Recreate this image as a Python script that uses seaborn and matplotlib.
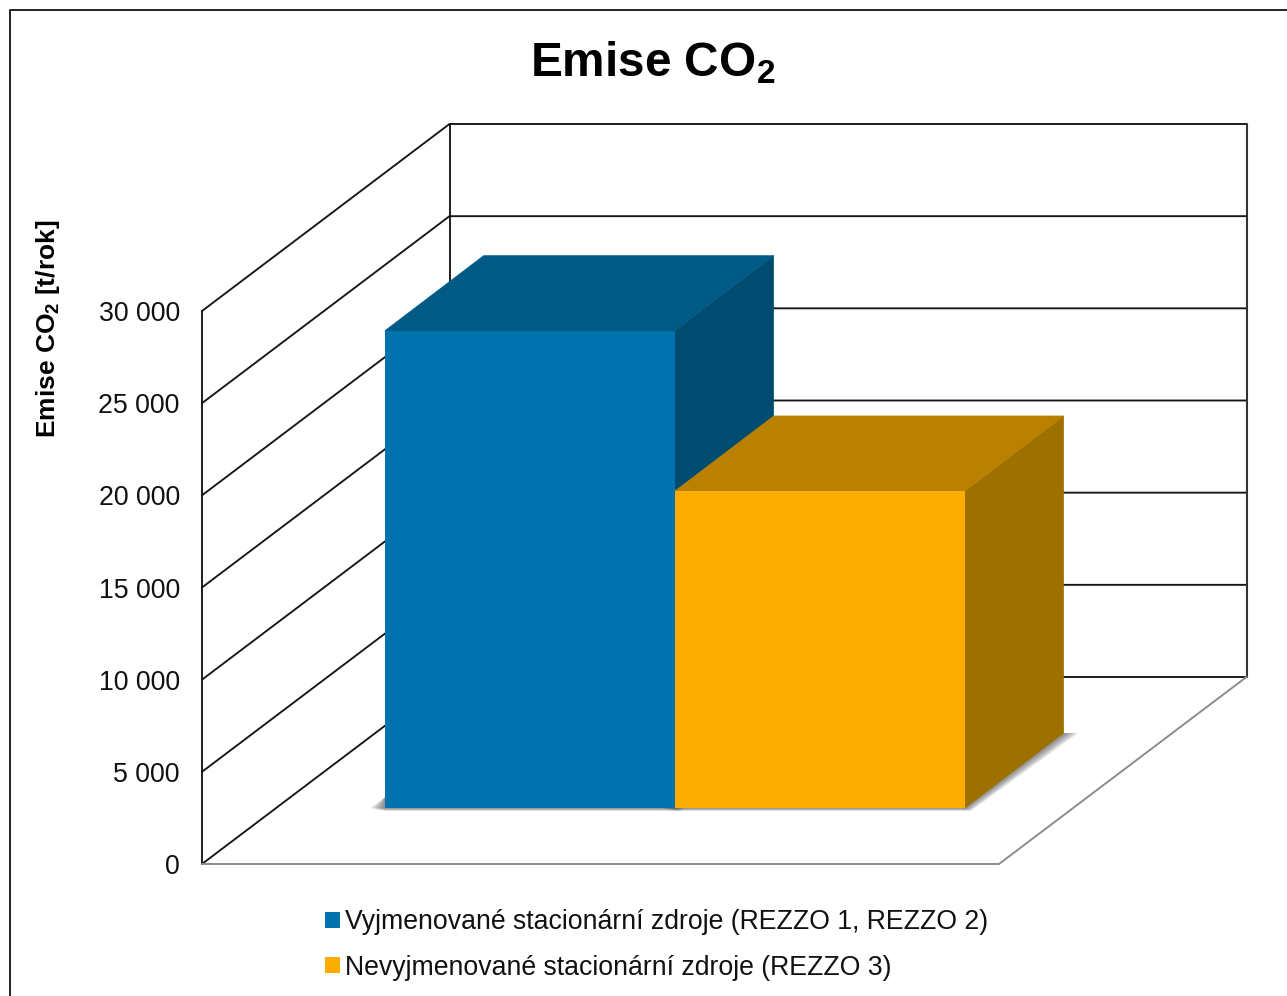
import matplotlib
matplotlib.use("Agg")
import matplotlib.pyplot as plt
from matplotlib.lines import Line2D
from matplotlib.patches import Polygon
import pandas as pd
import seaborn as sns

# Data
sources = ["Vyjmenované stacionární zdroje (REZZO 1, REZZO 2)",
           "Nevyjmenované stacionární zdroje (REZZO 3)"]
emissions = [25900, 17200]
tick_values = [0, 5000, 10000, 15000, 20000, 25000, 30000]
tick_labels = ["0", "5 000", "10 000", "15 000", "20 000", "25 000", "30 000"]

front_colors = ["#0072AE", "#FAAC00"]
top_colors = ["#005A86", "#BA8000"]
side_colors = ["#004C70", "#9E7000"]

W, H = 1287, 996
Y_MAX = 30000
PX_PER_VALUE = 553 / Y_MAX          # vertical scale shared by walls and bars

sns.set_theme(style="white", font="Liberation Sans")
plt.rcParams["font.family"] = ["Liberation Sans", "DejaVu Sans"]
plt.rcParams["mathtext.default"] = "regular"


def pixel_rect(left, top, right, bottom):
    """Axes rectangle from pixel edges measured from the top-left corner."""
    return [left / W, 1 - bottom / H, (right - left) / W, (bottom - top) / H]


fig = plt.figure(figsize=(W / 100, H / 100), dpi=100, facecolor="white")

# Outer chart frame: open on the right and at the bottom
fig.add_artist(Line2D([9.5 / W, 9.5 / W, 1], [0, 1 - 10.5 / H, 1 - 10.5 / H],
                      color="#111111", lw=1.3, transform=fig.transFigure))

# Walls and floor, drawn in the front plane's data coordinates
wall = fig.add_axes(pixel_rect(202, 311, 999, 864))
wall.set_xlim(0, 1)
wall.set_ylim(0, Y_MAX)
wall.patch.set_visible(False)
sns.despine(ax=wall, left=True, bottom=True)
wall_dx = 247.5 / 797
wall_dy = 187 / PX_PER_VALUE

GRID = "#151515"
FLOOR = "#8C8C8C"
for v in tick_values:
    wall.plot([0, wall_dx, 1 + wall_dx], [v, v + wall_dy, v + wall_dy],
              color=GRID, lw=1.35, clip_on=False, solid_joinstyle="miter", zorder=1)
top = tick_values[-1]
wall.plot([0, 0], [0, top], color=GRID, lw=1.35, clip_on=False, zorder=1)
wall.plot([wall_dx, wall_dx], [wall_dy, top + wall_dy], color=GRID, lw=1.35, clip_on=False, zorder=1)
wall.plot([1 + wall_dx, 1 + wall_dx], [wall_dy, top + wall_dy], color="#333333", lw=1.5, clip_on=False, zorder=1)
wall.plot([0, 1, 1 + wall_dx], [0, 0, wall_dy], color=FLOOR, lw=1.4, clip_on=False, zorder=2)

wall.set_xticks([])
wall.set_yticks(tick_values, tick_labels, fontsize=19.3, color="#111111")
wall.tick_params(axis="y", length=0, pad=16)
wall.set_ylabel(r"Emise CO$_{\mathdefault{2}}$ [t/rok]", fontsize=19,
                fontweight="bold", color="black")
wall.yaxis.set_label_coords(-140 / 797, (864 - 329) / 553)

# Front faces of the bars sit further back on the floor, in their own axes
bars = fig.add_axes(pixel_rect(385, 255, 965, 808))
bars.patch.set_visible(False)
frame = pd.DataFrame({"source": sources, "emission": emissions})
sns.barplot(data=frame, x="source", y="emission", hue="source", hue_order=sources,
            palette=dict(zip(sources, front_colors)), width=1, saturation=1,
            legend=True, ax=bars, zorder=5, linewidth=0)
handles, labels = bars.get_legend_handles_labels()
bars.get_legend().remove()
bars.set_xlim(-0.5, 1.5)
bars.set_ylim(0, Y_MAX)
bars.axis("off")

px_x = 1 / 290                      # one pixel in category units
px_y = 1 / PX_PER_VALUE             # one pixel in value units
depth_x = 98.7 * px_x
depth_y = 75 * px_y

bar_patches = [p for p in bars.patches if p.get_height() > 0]
bar_patches.sort(key=lambda p: p.get_x())

# Soft shadow on the floor under the bars, built from stacked translucent layers
for patch in bar_patches:
    x0, x1 = patch.get_x(), patch.get_x() + patch.get_width()
    for step in range(1, 11):
        t = step / 10
        outline = [(x0 - 15 * t * px_x, 0),
                   (x0, -3 * t * px_y),
                   (x1 + 6 * t * px_x, -3 * t * px_y),
                   (x1 + depth_x + 15 * t * px_x, depth_y),
                   (x0 + depth_x, depth_y),
                   (x0, 11 * px_y)]
        bars.add_patch(Polygon(outline, closed=True, facecolor="#505050", alpha=0.09,
                               edgecolor="none", clip_on=False, zorder=2))

# Top and side faces, offset from each front face by the bar depth; both tuck
# a pixel under the front face so no seam opens along the shared edge
for patch, value, top_c, side_c in zip(bar_patches, emissions, top_colors, side_colors):
    x0, x1 = patch.get_x(), patch.get_x() + patch.get_width()
    order = 3 + patch.get_x()
    bars.add_patch(Polygon([(x1 - px_x, 0), (x1, 0), (x1 + depth_x, depth_y),
                            (x1 + depth_x, value + depth_y), (x1, value), (x1 - px_x, value)],
                           closed=True, facecolor=side_c, edgecolor=side_c, lw=0.4,
                           clip_on=False, zorder=order))
    bars.add_patch(Polygon([(x0, value - px_y), (x1, value - px_y), (x1, value),
                            (x1 + depth_x, value + depth_y), (x0 + depth_x, value + depth_y),
                            (x0, value)],
                           closed=True, facecolor=top_c, edgecolor=top_c, lw=0.4,
                           clip_on=False, zorder=order))

# Front faces go above every depth face
for patch in bar_patches:
    patch.set_zorder(6)
    patch.set_clip_on(False)

# Title
fig.text(653 / W, 1 - 63 / H, r"Emise CO$_{\mathdefault{2}}$", fontsize=34.4, fontweight="bold",
         color="black", ha="center", va="center")

# Legend stacked under the floor
legend = fig.legend(handles, labels, loc="upper left",
                    bbox_to_anchor=(325 / W, 1 - 909 / H), ncol=1, frameon=False,
                    fontsize=19.15, handlelength=0.55, handleheight=0.55,
                    handletextpad=0.2, labelspacing=0.74, borderpad=0, borderaxespad=0,
                    labelcolor="#111111")

fig.savefig("out.png", dpi=100, facecolor="white")
